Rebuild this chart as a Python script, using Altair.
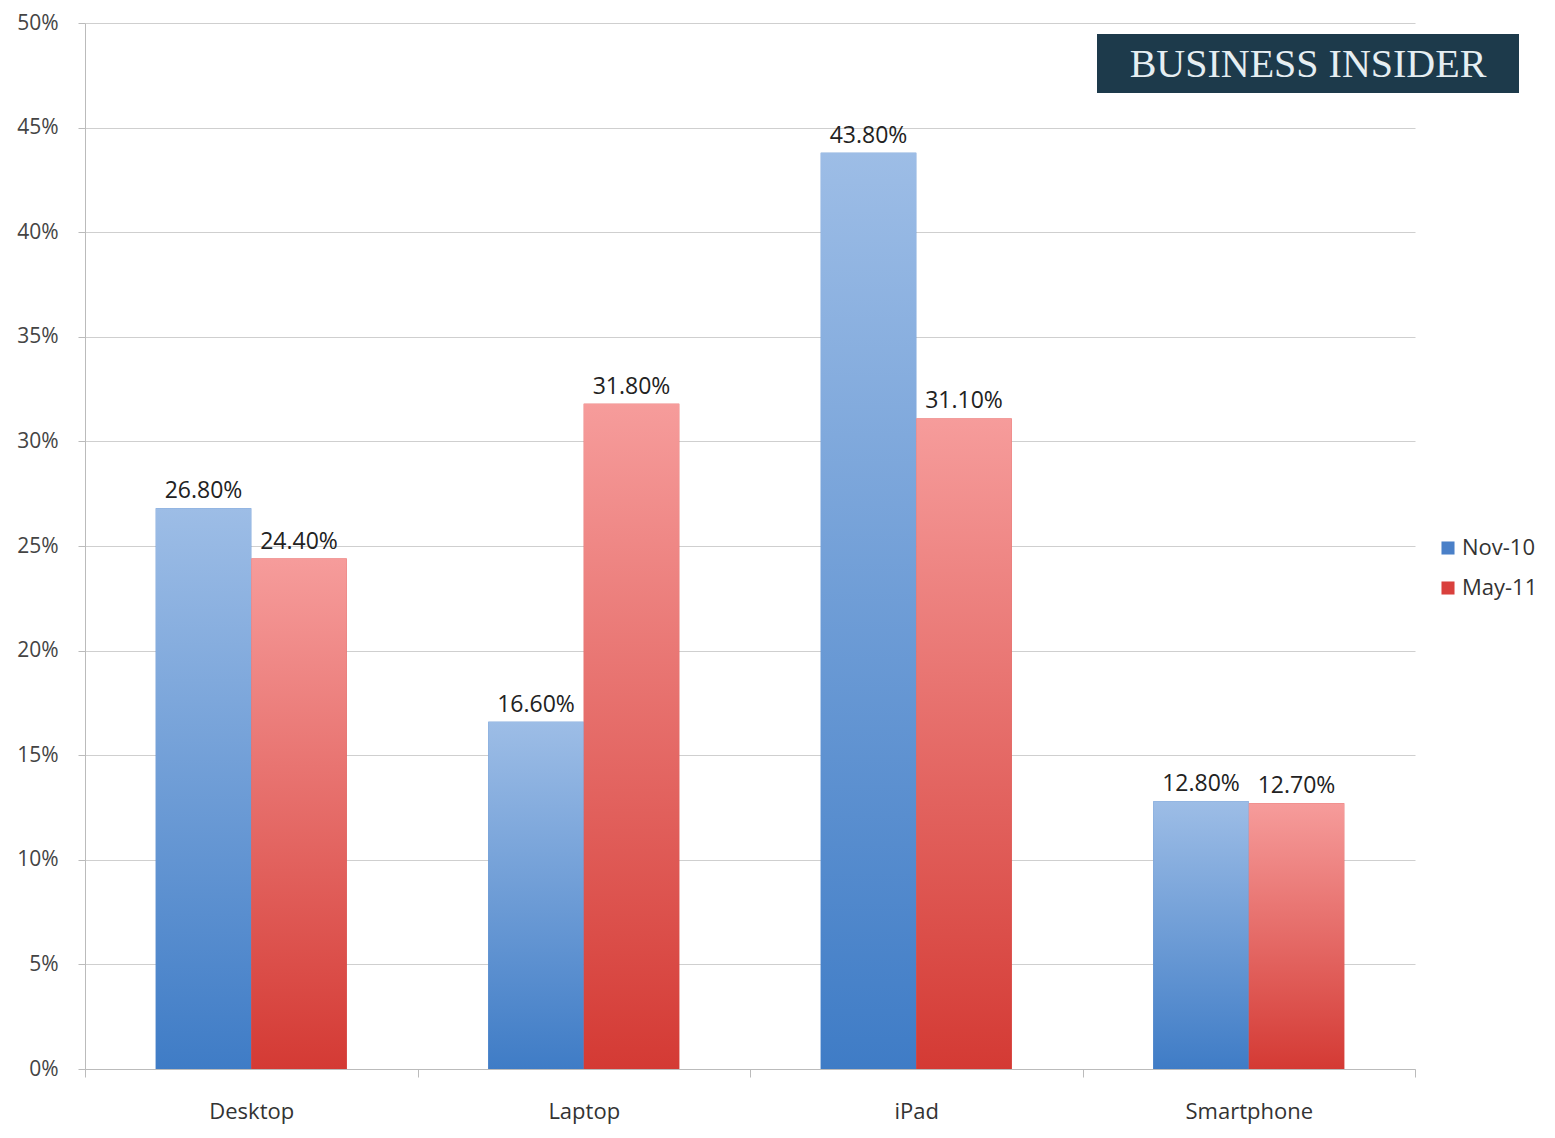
import altair as alt
import pandas as pd

categories = ["Desktop", "Laptop", "iPad", "Smartphone"]
series = ["Nov-10", "May-11"]
nov10 = [26.8, 16.6, 43.8, 12.8]
may11 = [24.4, 31.8, 31.1, 12.7]

rows = []
for c, a, b in zip(categories, nov10, may11):
    rows.append({"category": c, "series": "Nov-10", "value": a / 100, "label": f"{a:.2f}%"})
    rows.append({"category": c, "series": "May-11", "value": b / 100, "label": f"{b:.2f}%"})
df = pd.DataFrame(rows)

FONT = "Open Sans"
W, H = 1330, 1046
TOP = 15

x_enc = alt.X("category:N", sort=categories, title=None,
              scale=alt.Scale(paddingInner=0, paddingOuter=0),
              axis=alt.Axis(labelAngle=0, labelFontSize=22, labelColor="#333", labelFont=FONT,
                            labelPadding=24, tickBand="extent", tickSize=8, tickColor="#bbb",
                            domainColor="#bbb", grid=False))
xo_enc = alt.XOffset("series:N", sort=series,
                     scale=alt.Scale(domain=series, paddingInner=0, paddingOuter=0.741))
y_enc = alt.Y("value:Q", title=None,
              scale=alt.Scale(domain=[0, 0.5], nice=False),
              axis=alt.Axis(format=".0%", values=[i / 100 for i in range(0, 51, 5)],
                            labelFontSize=21, labelColor="#444", labelFont=FONT, labelPadding=20,
                            tickSize=7, tickColor="#bbb", domainColor="#bbb",
                            gridColor="#cfcfcf", gridWidth=1.2))

base = alt.Chart(df)

legend_bars = base.mark_bar().encode(
    x=x_enc, xOffset=xo_enc, y=y_enc,
    color=alt.Color("series:N", sort=series,
                    scale=alt.Scale(domain=series, range=["#4a80c8", "#d9403d"]),
                    legend=alt.Legend(title=None, orient="none", legendX=W + 22, legendY=514,
                                      labelFontSize=22, labelColor="#333", labelFont=FONT,
                                      symbolType="square", symbolSize=170, symbolStrokeWidth=0,
                                      rowPadding=18, labelOffset=3)),
)

blue_grad = alt.Gradient(gradient="linear", x1=0, x2=0, y1=0, y2=1,
                         stops=[alt.GradientStop(color="#9dbde6", offset=0),
                                alt.GradientStop(color="#3f7cc6", offset=1)])
red_grad = alt.Gradient(gradient="linear", x1=0, x2=0, y1=0, y2=1,
                        stops=[alt.GradientStop(color="#f69c9b", offset=0),
                               alt.GradientStop(color="#d43a34", offset=1)])

blue_bars = base.transform_filter("datum.series == 'Nov-10'").mark_bar(color=blue_grad).encode(
    x=x_enc, xOffset=xo_enc, y=y_enc)
red_bars = base.transform_filter("datum.series == 'May-11'").mark_bar(color=red_grad).encode(
    x=x_enc, xOffset=xo_enc, y=y_enc)

labels = base.mark_text(baseline="alphabetic", dy=-10, fontSize=23, font=FONT, color="#222").encode(
    x=x_enc, xOffset=xo_enc, y=y_enc, text="label:N")

logo_box = alt.Chart(pd.DataFrame({"a": [0]})).mark_rect(color="#1d3a4b").encode(
    x=alt.value(1012), x2=alt.value(1434), y=alt.value(11), y2=alt.value(70))
logo_text = alt.Chart(pd.DataFrame({"t": ["BUSINESS INSIDER"]})).mark_text(
    font="Liberation Serif", fontSize=40, color="#e6eef2", align="center", baseline="middle").encode(
    x=alt.value(1223), y=alt.value(42), text="t:N")

chart = alt.layer(legend_bars, blue_bars, red_bars, labels, logo_box, logo_text).properties(
    width=W, height=H,
    background="white",
    autosize=alt.AutoSizeParams(type="none"),
    padding={"left": 77, "top": TOP, "right": 132, "bottom": 60},
).configure_view(stroke=None)

chart.save("out.html", embed_options={"renderer": "svg", "actions": False})
